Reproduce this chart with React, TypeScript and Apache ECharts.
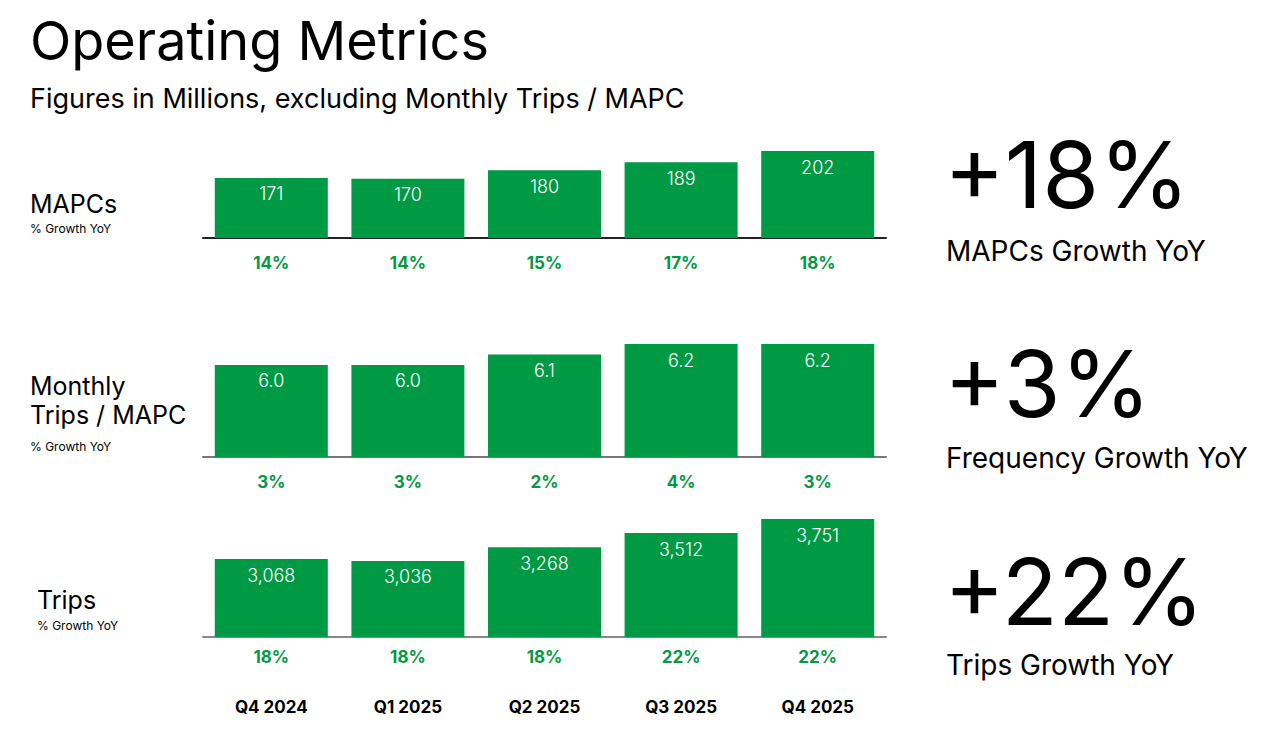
import React, { useEffect, useRef } from "react";
import * as echarts from "echarts";

const quarters = ["Q4 2024", "Q1 2025", "Q2 2025", "Q3 2025", "Q4 2025"];
const mapcs = [171, 170, 180, 189, 202];
const mapcsGrowth = [14, 14, 15, 17, 18];
const tripsPerMapc = [6.0, 6.0, 6.1, 6.2, 6.2];
const tripsPerMapcGrowth = [3, 3, 2, 4, 3];
const trips = [3068, 3036, 3268, 3512, 3751];
const tripsGrowth = [18, 18, 18, 22, 22];
const headlineValues = ["+18%", "+3%", "+22%"];
const headlineLabels = ["MAPCs Growth YoY", "Frequency Growth YoY", "Trips Growth YoY"];

const FONT = "Inter, 'Noto Sans', sans-serif";
const GREEN = "#009944";

export default function App() {
  const ref = useRef<HTMLDivElement>(null);
  useEffect(() => {
    document.body.style.margin = "0";
    if (!ref.current) return;
    const chart = echarts.init(ref.current, undefined, { renderer: "svg" });

    const growths = [mapcsGrowth, tripsPerMapcGrowth, tripsGrowth];
    const values = [mapcs, tripsPerMapc, trips];
    const fmts = [
      (v: number) => String(v),
      (v: number) => v.toFixed(1),
      (v: number) => v.toLocaleString("en-US"),
    ];
    const grids = [
      { left: 203, width: 683, top: 151, height: 87 },
      { left: 203, width: 683, top: 344, height: 113 },
      { left: 203, width: 683, top: 519, height: 118 },
    ];
    const yRanges = [
      [102, 202],
      [5.12, 6.2],
      [1737, 3751],
    ];
    const lineColors = ["#222222", "#777777", "#888888"];
    const labelMargins = [16, 16, 11];

    const xAxes: any[] = growths.map((g, i) => ({
      type: "category",
      gridIndex: i,
      data: quarters,
      axisLine: { show: true, lineStyle: { color: lineColors[i], width: 2 } },
      axisTick: { show: false },
      axisLabel: {
        formatter: (_v: string, idx: number) => g[idx] + "%",
        color: GREEN,
        fontWeight: "bold",
        fontSize: 17,
        fontFamily: FONT,
        margin: labelMargins[i],
        interval: 0,
      },
    }));
    xAxes.push({
      type: "category",
      gridIndex: 2,
      position: "bottom",
      data: quarters,
      axisLine: { show: false },
      axisTick: { show: false },
      axisLabel: {
        color: "#000",
        fontWeight: "bold",
        fontSize: 17,
        fontFamily: FONT,
        margin: 61,
        interval: 0,
      },
    });

    const yAxes = yRanges.map((r, i) => ({
      type: "value",
      gridIndex: i,
      min: r[0],
      max: r[1],
      show: false,
      splitLine: { show: false },
    }));

    const series = values.map((vals, i) => ({
      type: "bar",
      xAxisIndex: i,
      yAxisIndex: i,
      data: vals,
      barWidth: 113,
      itemStyle: { color: GREEN },
      label: {
        show: true,
        position: "insideTop",
        distance: 7,
        color: "#fff",
        fontSize: 18,
        fontWeight: 300,
        fontFamily: FONT,
        formatter: (p: any) => fmts[i](p.value),
      },
    }));

    const txt = (text: string, x: number, y: number, size: number, weight = "normal", color = "#000") => ({
      type: "text",
      x,
      y,
      style: {
        text,
        fill: color,
        font: `${weight} ${size}px ${FONT}`,
        textAlign: "left",
        textVerticalAlign: "middle",
      },
    });

    const headY = [174, 383, 591];
    const subY = [251, 458, 665];
    const graphic: any[] = [
      txt("Operating Metrics", 30, 40, 54),
      txt("Figures in Millions, excluding Monthly Trips / MAPC", 30, 98, 27),
      txt("MAPCs", 30, 204, 25),
      txt("% Growth YoY", 30, 228, 12),
      txt("Monthly", 30, 386, 25),
      txt("Trips / MAPC", 30, 415, 25),
      txt("% Growth YoY", 30, 446, 12),
      txt("Trips", 37, 600, 25),
      txt("% Growth YoY", 37, 625, 12),
    ];
    headlineValues.forEach((h, i) => {
      graphic.push(txt(h, 944, headY[i], 92));
      graphic.push(txt(headlineLabels[i], 946, subY[i], 28));
    });

    chart.setOption({
      animation: false,
      backgroundColor: "#fff",
      grid: grids,
      xAxis: xAxes,
      yAxis: yAxes,
      series,
      graphic,
    });
    return () => chart.dispose();
  }, []);
  return <div ref={ref} style={{ width: 1276, height: 739 }} />;
}
